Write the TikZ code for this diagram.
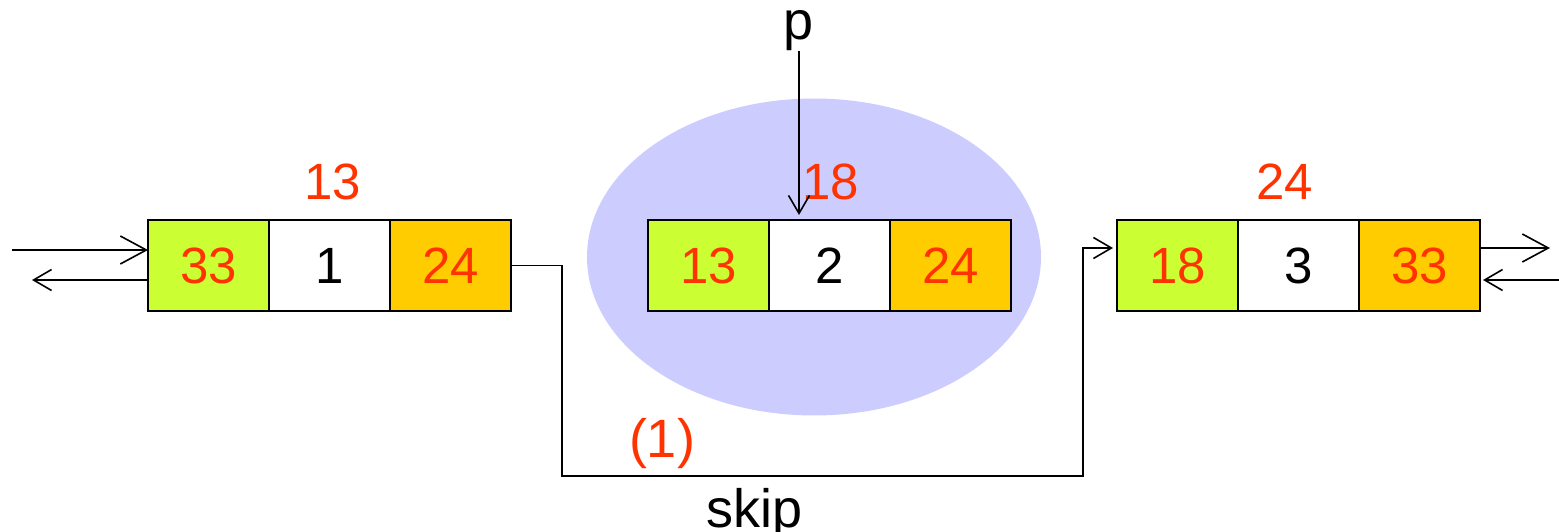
\documentclass[tikz,border=0pt]{standalone}
\usepackage{fontspec}
\setmainfont{Liberation Sans}
\usetikzlibrary{shapes.geometric, arrows.meta, positioning}

\definecolor{keyred}{HTML}{FF3300}
\definecolor{limecell}{HTML}{CCFF33}
\definecolor{goldcell}{HTML}{FFCC00}
\definecolor{blobblue}{HTML}{CCCCFF}

\begin{document}
\begin{tikzpicture}[
    x=1pt, y=-1pt,
    cell/.style={
        rectangle,
        draw=black, line width=1.8pt,
        fill=white,
        minimum width=121pt,
        minimum height=91pt,
        inner sep=0pt, outer sep=0pt,
        font=\fontsize{51}{60}\selectfont
    },
    prev_cell/.style={
        cell, fill=limecell, text=keyred
    },
    next_cell/.style={
        cell, fill=goldcell, text=keyred
    },
    key_label/.style={
        text=keyred, inner sep=0pt,
        font=\fontsize{51}{60}\selectfont
    },
    word/.style={
        inner sep=0pt,
        font=\fontsize{54}{64}\selectfont
    },
    arrow/.style={
        line width=1.6pt, -{Straight Barb[length=18pt, width=21pt]}
    },
    big_arrow/.style={
        line width=1.6pt, -{Straight Barb[length=26pt, width=28pt]}
    }
]
\useasboundingbox (0,0) rectangle (1559,532);

% node to be removed
\node (blob) [ellipse, fill=blobblue, minimum width=454pt, minimum height=317pt, inner sep=0pt] at (814,257) {};

% left node
\node (a_prev) [prev_cell] at (208.5,265.5) {33};
\node (a_key) [cell, right=0pt of a_prev] {1};
\node (a_next) [next_cell, right=0pt of a_key] {24};
\node (a_label) [key_label, above=20pt of a_key, xshift=3pt] {13};

% middle node
\node (b_prev) [prev_cell] at (708.5,265.5) {13};
\node (b_key) [cell, right=0pt of b_prev] {2};
\node (b_next) [next_cell, right=0pt of b_key] {24};
\node (b_label) [key_label, above=20pt of b_key, xshift=1pt] {18};

% right node
\node (c_prev) [prev_cell] at (1177.5,265.5) {18};
\node (c_key) [cell, right=0pt of c_prev] {3};
\node (c_next) [next_cell, right=0pt of c_key] {33};
\node (c_label) [key_label, above=20pt of c_key, xshift=-14pt] {24};

% pointer p
\node (p) [word, anchor=south] at (799,51) {p};
\draw [arrow] (p.south) -- ([yshift=5pt]p.south |- b_key.north);

% outer links
\coordinate (left_in) at (12,250);
\coordinate (left_out) at (32,280);
\coordinate (right_out) at (1550,248);
\coordinate (right_in) at (1559,280);
\draw [big_arrow] (left_in) -- (left_in -| a_prev.west);
\draw [arrow] (left_out -| a_prev.west) -- (left_out);
\draw [big_arrow] (right_out -| c_next.east) -- (right_out);
\draw [arrow] (right_in) -- ([xshift=3pt]right_in -| c_next.east);

% skip link
\coordinate (skip_down) at (562,476);
\coordinate (skip_up) at (1083,248);
\draw [arrow] (a_next.east) -| (skip_down) -| (skip_up) -- ([xshift=-4pt]skip_up -| c_prev.west);
\node (skip_label) [word, anchor=north] at (755,488) {skip};
\node (step_label) [word, text=keyred, anchor=south] at (662,469) {(1)};

\end{tikzpicture}
\end{document}
